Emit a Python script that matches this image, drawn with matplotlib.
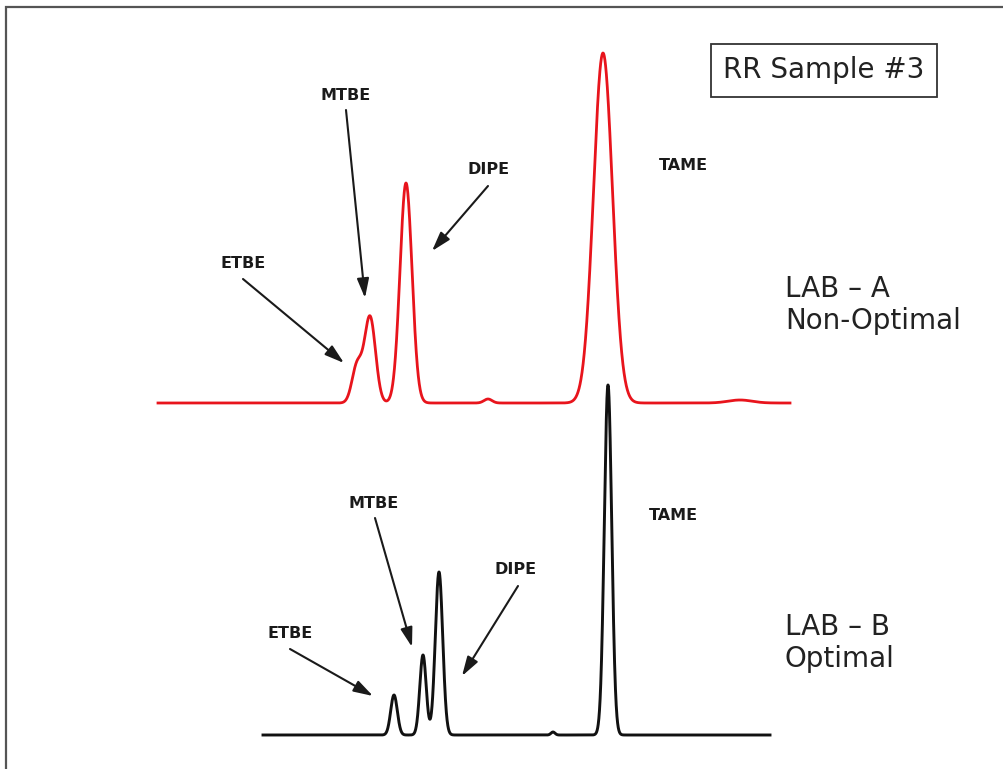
import numpy as np
import matplotlib
matplotlib.use('Agg')
import matplotlib.pyplot as plt

# peak tables: retention position, peak height, peak width (sigma)
lab_a_names = ['ETBE', 'MTBE', 'DIPE', 'TAME']
lab_a_rt = [357, 370, 406, 603]
lab_a_height = [37, 86, 220, 350]
lab_a_sigma = [5.0, 5.5, 6.0, 9.5]
# small unlabelled bumps on the Lab A baseline
lab_a_minor_rt = [488, 740]
lab_a_minor_height = [4, 3]
lab_a_minor_sigma = [4, 12]
lab_a_range = [158, 790]

lab_b_names = ['ETBE', 'MTBE', 'DIPE', 'TAME']
lab_b_rt = [394, 423, 439, 608]
lab_b_height = [40, 80, 163, 350]
lab_b_sigma = [3.3, 3.2, 3.7, 3.7]
lab_b_minor_rt = [553]
lab_b_minor_height = [3]
lab_b_minor_sigma = [2]
lab_b_range = [263, 770]


def trace(rng, rt, h, s):
    x = np.linspace(rng[0], rng[1], 4000)
    y = np.zeros_like(x)
    for c, a, w in zip(rt, h, s):
        y += a * np.exp(-(x - c) ** 2 / (2 * w ** 2))
    return x, y


W, H = 1004, 769
fig = plt.figure(figsize=(W / 100, H / 100), dpi=100)
ax = fig.add_axes([0, 0, 1, 1])
ax.set_xlim(0, W)
ax.set_ylim(0, H)
ax.axis('off')

# outer frame (top and left edges)
ax.plot([6.5, 6.5, W], [0, H - 6.5, H - 6.5], color='#555555', lw=1.6,
        solid_joinstyle='miter')

# Lab A (red) and Lab B (black) chromatograms, stacked
base_a = H - 403
base_b = H - 735
xa, ya = trace(lab_a_range, lab_a_rt + lab_a_minor_rt,
               lab_a_height + lab_a_minor_height, lab_a_sigma + lab_a_minor_sigma)
xb, yb = trace(lab_b_range, lab_b_rt + lab_b_minor_rt,
               lab_b_height + lab_b_minor_height, lab_b_sigma + lab_b_minor_sigma)
ax.plot(xa, ya + base_a, color='#e8141c', lw=2.0)
ax.plot(xb, yb + base_b, color='#111111', lw=2.1)

# peak labels with arrows (label pos, arrow tail, arrow tip) in pixel layout
lab_color = '#1a1a1a'
arrows = [
    ('MTBE', (346, 96), (346, 110), (365, 298)),
    ('DIPE', (489, 170), (488, 186), (432, 251)),
    ('ETBE', (243, 264), (243, 279), (344, 363)),
    ('MTBE', (374, 503), (375, 518), (412, 647)),
    ('DIPE', (516, 570), (518, 586), (462, 676)),
    ('ETBE', (290, 633), (290, 649), (373, 696)),
]
for name, (tx, ty), (x0, y0), (x1, y1) in arrows:
    ax.text(tx, H - ty, name, ha='center', va='center', fontsize=11.5,
            fontweight='bold', color=lab_color)
    ax.annotate('', xy=(x1, H - y1), xytext=(x0, H - y0),
                arrowprops=dict(arrowstyle='-|>,head_length=0.65,head_width=0.2',
                                color=lab_color, lw=1.5, mutation_scale=18,
                                shrinkA=0, shrinkB=0))

ax.text(683, H - 165, 'TAME', ha='center', va='center', fontsize=11.5,
        fontweight='bold', color=lab_color)
ax.text(673, H - 516, 'TAME', ha='center', va='center', fontsize=11.5,
        fontweight='bold', color=lab_color)

# sample title box
ax.text(824, H - 70, 'RR Sample #3', ha='center', va='center', fontsize=20,
        color='#222222',
        bbox=dict(boxstyle='square,pad=0.45', fc='white', ec='#333333', lw=1.3))

# lab captions
ax.text(785, H - 305, 'LAB \u2013 A\nNon-Optimal', ha='left', va='center',
        fontsize=20, color='#222222', linespacing=1.15)
ax.text(785, H - 643, 'LAB \u2013 B\nOptimal', ha='left', va='center',
        fontsize=20, color='#222222', linespacing=1.15)

fig.savefig('out.png', dpi=100, facecolor='white')
